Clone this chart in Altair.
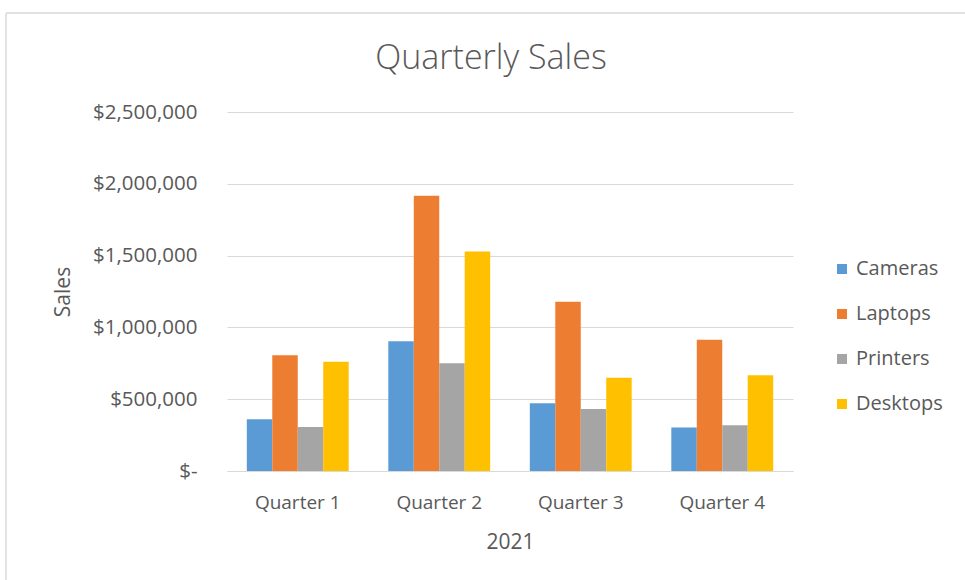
import altair as alt
import pandas as pd

quarters = ["Quarter 1", "Quarter 2", "Quarter 3", "Quarter 4"]
products = ["Cameras", "Laptops", "Printers", "Desktops"]
cameras = [361000, 903000, 472000, 303000]
laptops = [806000, 1917000, 1178000, 914000]
printers = [306000, 750000, 431000, 319000]
desktops = [761000, 1528000, 650000, 667000]
colors = ["#5B9BD5", "#ED7D31", "#A5A5A5", "#FFC000"]
y_ticks = [0, 500000, 1000000, 1500000, 2000000, 2500000]

rows = []
for prod, vals in zip(products, [cameras, laptops, printers, desktops]):
    for q, v in zip(quarters, vals):
        rows.append({"Quarter": q, "Product": prod, "Sales": v})
df = pd.DataFrame(rows)

FONT = "Open Sans"
GRAY = "#595959"
GRID = "#D9D9D9"
NB = "\u00a0"

bars = alt.Chart(df).mark_bar().encode(
    x=alt.X("Quarter:N", sort=quarters, title="2021",
            scale=alt.Scale(paddingInner=0.28, paddingOuter=0.14),
            axis=alt.Axis(labelAngle=0, ticks=False, domain=True, domainColor=GRID,
                          domainWidth=1, labelPadding=22, titlePadding=19, grid=False,
                          labelFontSize=19)),
    xOffset=alt.XOffset("Product:N", sort=products,
                        scale=alt.Scale(paddingInner=0, paddingOuter=0)),
    y=alt.Y("Sales:Q", title="Sales",
            scale=alt.Scale(domain=[0, 2500000], nice=False),
            axis=alt.Axis(values=y_ticks, ticks=False, domain=False, grid=True,
                          gridColor=GRID, gridWidth=1, labelPadding=30, titlePadding=19,
                          labelFontSize=20.5,
                          labelExpr="datum.value == 0 ? '$-" + NB + NB + "' : '$' + format(datum.value, ',')")),
    color=alt.Color("Product:N", sort=products,
                    scale=alt.Scale(domain=products, range=colors),
                    legend=alt.Legend(title=None, orient="none", legendX=605, legendY=147,
                                      symbolType="square", symbolSize=100, rowPadding=25,
                                      labelOffset=4, padding=0, symbolStrokeWidth=0)),
)

frame_src = alt.Chart(pd.DataFrame({"k": [0]}))
left_line = frame_src.mark_rule(color=GRID, strokeWidth=1.5).encode(
    x=alt.value(-221), y=alt.value(-99), y2=alt.value(470))
top_line = frame_src.mark_rule(color=GRID, strokeWidth=1.5).encode(
    x=alt.value(-221), x2=alt.value(740), y=alt.value(-99))

chart = alt.layer(left_line, top_line, bars).properties(
    width=566, height=359,
    autosize="none",
    padding={"left": 227, "top": 112, "right": 172, "bottom": 109},
    title=alt.TitleParams("Quarterly Sales", fontSize=34, font=FONT, fontWeight=300,
                          color=GRAY, anchor="middle", dx=-19, offset=-64),
).configure_view(strokeOpacity=0).configure_axis(
    labelFont=FONT, labelColor=GRAY,
    titleFont=FONT, titleFontSize=21, titleColor=GRAY, titleFontWeight="normal",
).configure_legend(
    labelFont=FONT, labelFontSize=20, labelColor=GRAY,
)

chart.save("out.html", embed_options={"renderer": "svg", "actions": False})
